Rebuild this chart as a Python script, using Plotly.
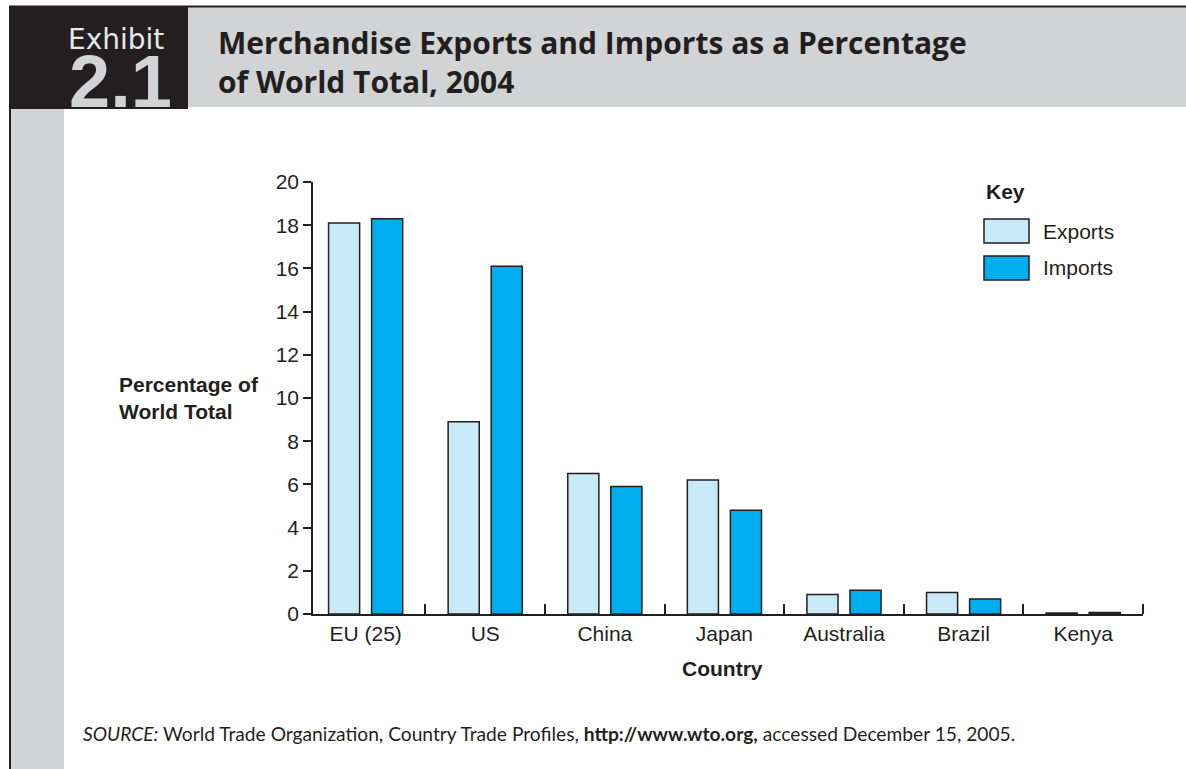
import plotly.graph_objects as go

# Merchandise trade shares, 2004 (% of world total)
countries = ["EU (25)", "US", "China", "Japan", "Australia", "Brazil", "Kenya"]
exports_pct = [18.1, 8.9, 6.5, 6.2, 0.9, 1.0, 0.05]
imports_pct = [18.3, 16.1, 5.9, 4.8, 1.1, 0.7, 0.07]
y_ticks = [0, 2, 4, 6, 8, 10, 12, 14, 16, 18, 20]

W, H = 1186, 769
INK = "#231f20"
GREY = "#d1d3d4"
EXP_FILL = "#c8e9f8"
IMP_FILL = "#00aeef"
SANS = "Liberation Sans, Arial, sans-serif"
AX_FONT = 21


def px(x):
    return x / W


def py(y):
    return 1 - y / H


xpos = list(range(len(countries)))

fig = go.Figure()
fig.add_trace(go.Bar(
    x=xpos, y=exports_pct, name="Exports", width=0.26, offset=-0.31,
    marker=dict(color=EXP_FILL, line=dict(color=INK, width=1.5)),
))
fig.add_trace(go.Bar(
    x=xpos, y=imports_pct, name="Imports", width=0.26, offset=0.05,
    marker=dict(color=IMP_FILL, line=dict(color=INK, width=1.5)),
))

shapes = [
    # header band, exhibit block, left strip and frame lines
    dict(type="rect", x0=px(188), x1=px(W), y0=py(107), y1=py(7),
         fillcolor=GREY, line_width=0, layer="below"),
    dict(type="rect", x0=px(9), x1=px(188), y0=py(109), y1=py(7),
         fillcolor=INK, line_width=0, layer="below"),
    dict(type="rect", x0=px(10), x1=px(64), y0=py(H), y1=py(109),
         fillcolor=GREY, line_width=0, layer="below"),
    dict(type="line", x0=px(9), x1=px(W), y0=py(6.5), y1=py(6.5),
         line=dict(color=INK, width=2)),
    dict(type="line", x0=px(10), x1=px(10), y0=py(6), y1=py(H),
         line=dict(color=INK, width=2)),
    # legend swatches
    dict(type="rect", x0=px(984), x1=px(1029), y0=py(243), y1=py(219),
         fillcolor=EXP_FILL, line=dict(color=INK, width=1.5)),
    dict(type="rect", x0=px(984), x1=px(1029), y0=py(280), y1=py(256),
         fillcolor=IMP_FILL, line=dict(color=INK, width=1.5)),
]

annotations = [
    # tight text boxes so the stacked exhibit label and number sit close together
    dict(text="Exhibit", x=px(116), y=py(39), xanchor="center", yanchor="middle",
         height=24, valign="middle",
         font=dict(family="DejaVu Sans, sans-serif", size=28, color="#e6e7e8")),
    dict(text="<b>2.1</b>", x=px(120), y=py(81), xanchor="center", yanchor="middle",
         height=56, valign="middle",
         font=dict(family=SANS, size=74, color=GREY)),
    dict(text="<b>Merchandise Exports and Imports as a Percentage<br>of World Total, 2004</b>",
         x=px(216), y=py(62), xanchor="left", yanchor="middle", align="left",
         font=dict(family="Open Sans, sans-serif", size=30, color=INK)),
    dict(text="<b>Percentage of<br>World Total</b>", x=px(117), y=py(398),
         xanchor="left", yanchor="middle", align="left",
         font=dict(family=SANS, size=AX_FONT, color=INK)),
    dict(text="<b>Country</b>", x=px(722), y=py(668), xanchor="center", yanchor="middle",
         font=dict(family=SANS, size=AX_FONT, color=INK)),
    dict(text="<b>Key</b>", x=px(984), y=py(192), xanchor="left", yanchor="middle",
         font=dict(family=SANS, size=AX_FONT, color=INK)),
    dict(text="Exports", x=px(1041), y=py(231), xanchor="left", yanchor="middle",
         font=dict(family=SANS, size=AX_FONT, color=INK)),
    dict(text="Imports", x=px(1041), y=py(267), xanchor="left", yanchor="middle",
         font=dict(family=SANS, size=AX_FONT, color=INK)),
    dict(text="<i>SOURCE:</i> World Trade Organization, Country Trade Profiles, "
              "<b>http://www.wto.org,</b> accessed December 15, 2005.",
         x=px(81), y=py(733), xanchor="left", yanchor="middle",
         font=dict(family="Lato, sans-serif", size=19.2, color=INK)),
]
for a in annotations:
    a.update(xref="paper", yref="paper", showarrow=False)
for s in shapes:
    s.update(xref="paper", yref="paper")

fig.update_layout(
    width=W, height=H,
    margin=dict(l=0, r=0, t=0, b=0, pad=0, autoexpand=False),
    paper_bgcolor="white", plot_bgcolor="white",
    showlegend=False,
    barmode="overlay",
    shapes=shapes,
    annotations=annotations,
    xaxis=dict(
        domain=[px(313), px(1143)],
        range=[-0.44, 6.5],
        tickmode="array", tickvals=xpos, ticktext=countries,
        ticks="", showgrid=False, zeroline=False, automargin=False,
        showline=True, linecolor=INK, linewidth=1.5,
        tickfont=dict(family=SANS, size=AX_FONT, color=INK),
        minor=dict(tick0=0.5, dtick=1, ticks="inside", ticklen=10,
                   tickcolor=INK, tickwidth=1.5, showgrid=False),
        fixedrange=True,
    ),
    yaxis=dict(
        domain=[py(614), py(182)],
        range=[0, 20],
        tickmode="array", tickvals=y_ticks, automargin=False,
        ticks="outside", ticklen=8, tickwidth=1.5, tickcolor=INK,
        showgrid=False, zeroline=False,
        showline=True, linecolor=INK, linewidth=1.5,
        tickfont=dict(family=SANS, size=AX_FONT, color=INK),
        fixedrange=True,
    ),
)

fig.write_html(
    "out.html",
    config={"displayModeBar": False},
    post_script="document.body.style.margin='0';document.body.style.overflow='hidden';",
)
